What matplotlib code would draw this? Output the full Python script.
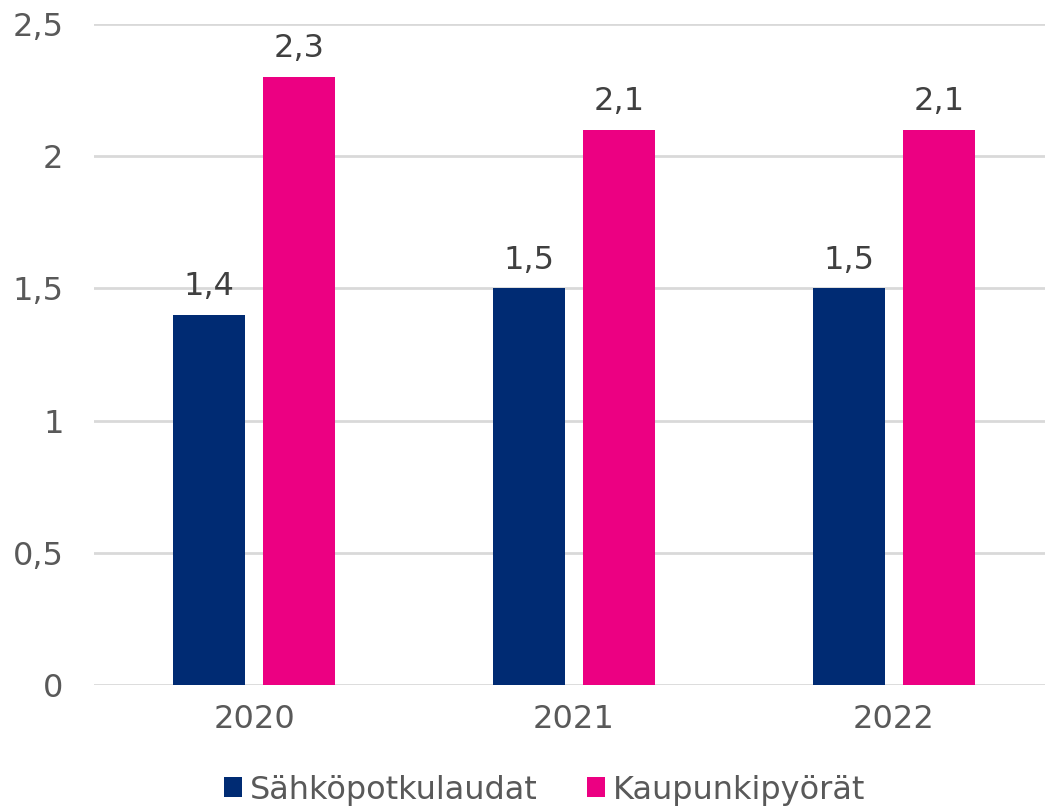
import matplotlib.pyplot as plt
import numpy as np

years = ["2020", "2021", "2022"]
scooters = [1.4, 1.5, 1.5]
citybikes = [2.3, 2.1, 2.1]
series_names = ["Sähköpotkulaudat", "Kaupunkipyörät"]

navy = "#002B73"
pink = "#EC0082"

plt.rcParams["font.family"] = ["DejaVu Sans"]

fig = plt.figure(figsize=(10.45, 8.07), dpi=100)
ax = fig.add_axes([94 / 1045, 122 / 807, 960 / 1045, 661 / 807])

x = np.arange(len(years))
w = 0.225
off = 0.142
b1 = ax.bar(x - off, scooters, w, color=navy, label=series_names[0])
b2 = ax.bar(x + off, citybikes, w, color=pink, label=series_names[1])

# arvot pylväiden päälle
for bars, vals in [(b1, scooters), (b2, citybikes)]:
    for rect, v in zip(bars, vals):
        ax.annotate(str(v).replace(".", ","),
                    (rect.get_x() + rect.get_width() / 2, v),
                    xytext=(0, 9), textcoords="offset points",
                    ha="center", va="bottom", fontsize=23, color="#404040")

ax.set_xlim(-0.5, 2.5)
ax.set_ylim(0, 2.5)
ax.set_yticks([0, 0.5, 1, 1.5, 2, 2.5])
ax.set_yticklabels(["0", "0,5", "1", "1,5", "2", "2,5"])
ax.set_xticks(x)
ax.set_xticklabels(years)
ax.tick_params(axis="both", length=0, labelsize=23, colors="#595959")
ax.tick_params(axis="y", pad=22)
ax.tick_params(axis="x", pad=14)
ax.grid(axis="y", color="#D9D9D9", linewidth=2)
ax.set_axisbelow(True)
for s in ax.spines.values():
    s.set_visible(False)

fig.legend(loc="center", bbox_to_anchor=(0.521, 17 / 807), ncol=2, frameon=False,
           fontsize=23, handlelength=0.56, handleheight=0.56, handletextpad=0.25,
           columnspacing=1.55, labelcolor="#595959")

fig.savefig("out.png", dpi=100)
